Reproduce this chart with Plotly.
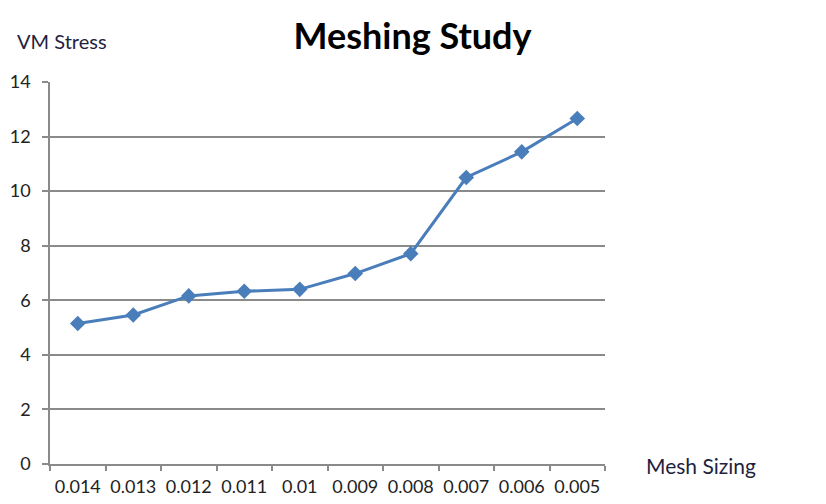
import plotly.graph_objects as go

mesh_sizing = ["0.014", "0.013", "0.012", "0.011", "0.01", "0.009", "0.008", "0.007", "0.006", "0.005"]
vm_stress = [5.15, 5.46, 6.16, 6.33, 6.40, 6.98, 7.71, 10.50, 11.44, 12.66]
y_ticks = [0, 2, 4, 6, 8, 10, 12, 14]

W, H = 826, 504
FONT = "Lato"
GRAY = "#8A8A8A"
BLUE = "#4A7EBB"

fig = go.Figure()
fig.add_trace(go.Scatter(
    x=mesh_sizing, y=vm_stress, mode="lines+markers",
    line=dict(color=BLUE, width=3),
    marker=dict(symbol="diamond", size=12, color=BLUE),
    showlegend=False,
))

fig.update_layout(
    width=W, height=H,
    margin=dict(l=50, r=221, t=82, b=39.5, autoexpand=False),
    paper_bgcolor="white", plot_bgcolor="white",
    font=dict(family=FONT, color="#222222", size=18),
    title=dict(text="<b>Meshing Study</b>", x=412.5 / W, xref="container", xanchor="center",
               y=1 - 36 / H, yref="container", yanchor="middle",
               font=dict(family=FONT, size=36, color="#000000")),
)
fig.update_xaxes(
    type="category", range=[-0.5, len(mesh_sizing) - 0.5],
    showline=True, linecolor=GRAY, linewidth=1.5,
    ticks="outside", tickson="boundaries", ticklen=5, tickcolor=GRAY, tickwidth=1.5,
    showgrid=False, tickangle=0, automargin=False, ticklabelstandoff=6,
    tickfont=dict(size=18, family=FONT, color="#222222"),
)
fig.update_yaxes(
    range=[0, 14], tickvals=y_ticks, showline=True, linecolor=GRAY, linewidth=1.5,
    ticks="outside", ticklen=6, tickcolor=GRAY, tickwidth=1.5, automargin=False,
    showgrid=True, gridcolor=GRAY, gridwidth=1.5, zeroline=False, ticklabelstandoff=8,
    tickfont=dict(size=18, family=FONT, color="#222222"),
)
fig.add_annotation(text="VM Stress", xref="paper", yref="paper", x=-50 / 555 + 15 / 555, y=1 + (82 - 41) / 382.5,
                   xanchor="left", yanchor="middle", showarrow=False,
                   font=dict(family=FONT, size=20, color="#1F1F3F"))
fig.add_annotation(text="Mesh Sizing", xref="paper", yref="paper", x=(644 - 50) / 555, y=(464.5 - 466) / 382.5,
                   xanchor="left", yanchor="middle", showarrow=False,
                   font=dict(family=FONT, size=21, color="#1F1F3F"))

fig.write_html("out.html")
